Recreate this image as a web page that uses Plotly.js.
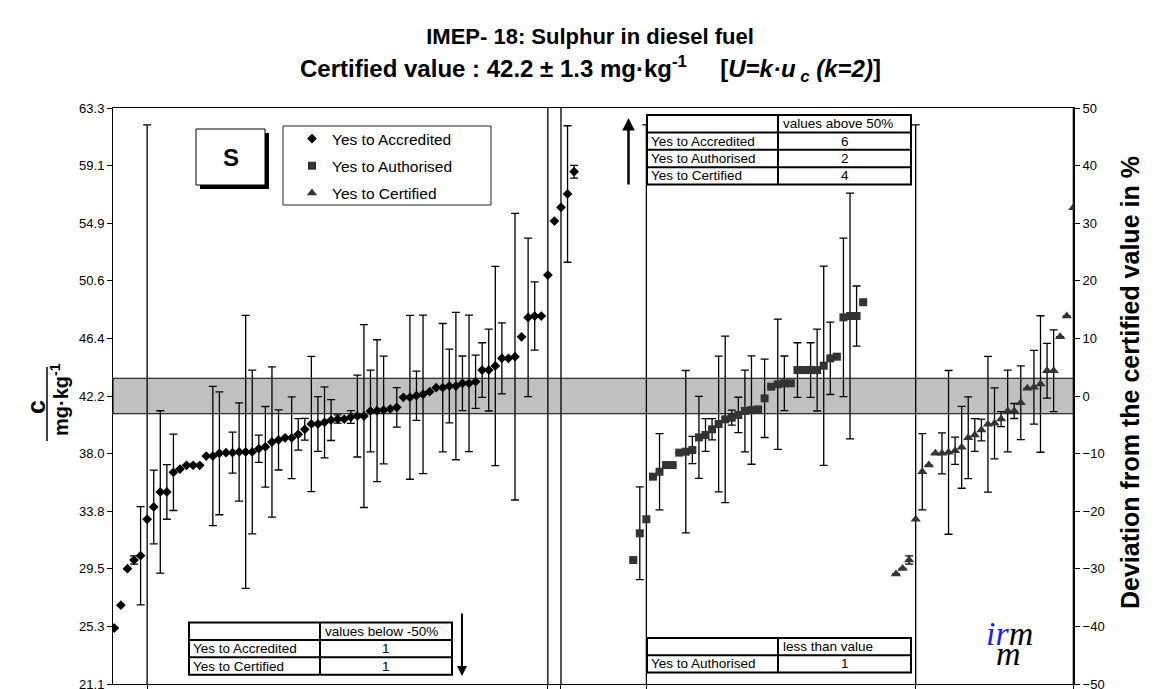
<!DOCTYPE html>
<html>
<head>
<meta charset="utf-8">
<script src="https://cdn.plot.ly/plotly-3.0.1.min.js"></script>
<style>
  html, body { margin: 0; padding: 0; background: #fff; }
  #chart { width: 1155px; height: 689px; }
</style>
</head>
<body>
<div id="chart"></div>
<script>
// certified value and expanded uncertainty, mg/kg
var certified = 42.2;
var expandedU = 1.3;

// lab results (sorted), first rank of each group on the x axis
var accStart = 1;
var accValues = [25.2, 26.87, 29.55, 30.18, 30.5, 33.17, 34.07, 35.17, 35.17, 36.61,
  36.85, 37.12, 37.12, 37.12, 37.8, 37.8, 38.0, 38.05, 38.05, 38.1,
  38.1, 38.1, 38.34, 38.48, 38.83, 38.98, 39.14, 39.14, 39.39, 39.76,
  40.15, 40.15, 40.27, 40.44, 40.51, 40.51, 40.66, 40.73, 40.73, 41.1,
  41.12, 41.17, 41.25, 41.37, 42.1, 42.1, 42.22, 42.32, 42.52, 42.81,
  42.81, 42.93, 42.93, 43.13, 43.13, 43.25, 44.1, 44.1, 44.4, 44.96,
  44.96, 45.08, 46.54, 47.96, 48.06, 48.06, 51.06, 55.02, 56.02, 57.0,
  58.63];
var accUnc = [0, 0, 0, 0.3, 3.6, 28.9, 2.7, 5.95, 2.0, 2.8,
  0, 0, 0, 0, 0, 5.1, 4.5, 0, 1.5, 3.6,
  10.0, 6.0, 1.0, 2.95, 5.5, 2.2, 0, 3.0, 1.15, 0.8,
  4.95, 2.0, 2.6, 1.5, 0.3, 0, 0.47, 3.0, 6.7, 3.0,
  5.2, 3.95, 0, 1.45, 0, 6.0, 1.8, 5.8, 0, 0,
  4.7, 2.7, 5.4, 2.0, 5.0, 1.95, 2.0, 3.0, 7.3, 2.6,
  0, 10.5, 0, 5.8, 2.5, 0, 40, 0, 40, 5.0,
  0.47];

var autStart = 80;
var autValues = [30.18, 32.14, 33.17, 36.29, 36.65, 37.14, 37.14, 38.05, 38.12, 38.24,
  39.17, 39.34, 39.76, 40.15, 40.49, 40.61, 40.81, 41.1, 41.17, 41.22,
  42.03, 42.88, 43.06, 43.13, 43.13, 44.1, 44.1, 44.1, 44.1, 44.42,
  44.96, 45.08, 47.96, 48.06, 48.06, 49.07];
var autUnc = [0, 3.4, 28.9, 0, 2.8, 0, 0, 0, 5.95, 1.0,
  3.0, 1.2, 0.78, 4.97, 6.1, 0.55, 1.3, 3.0, 3.97, 0,
  2.87, 0, 4.77, 2.0, 0, 2.0, 0, 2.0, 3.0, 7.3,
  2.65, 0, 5.8, 9.0, 2.2, 0];

var cerStart = 120;
var cerValues = [29.16, 29.57, 30.18, 33.17, 36.65, 37.14, 38.0, 38.0, 38.07, 38.19,
  38.44, 39.14, 39.34, 39.71, 40.13, 40.2, 40.51, 41.1, 41.1, 41.71,
  42.76, 42.84, 43.08, 44.05, 44.05, 46.54, 48.06, 56.0];
var cerUnc = [0, 0, 0.3, 28.9, 2.8, 0, 0, 1.5, 6.0, 1.0,
  3.0, 3.0, 1.2, 0.8, 4.97, 2.6, 0.55, 3.0, 0.55, 2.7,
  0, 2.7, 5.0, 2.0, 3.0, 0, 0, 40];

// ranks of the labs whose bars run off the chart (small ticks below the axis)
var offChartRanks = [6, 67, 69, 82, 123, 147];

// the three little tables
var aboveHeader = 'values above 50%';
var aboveLabels = ['Yes to Accredited', 'Yes to Authorised', 'Yes to Certified'];
var aboveCounts = [6, 2, 4];
var belowHeader = 'values below -50%';
var belowLabels = ['Yes to Accredited', 'Yes to Certified'];
var belowCounts = [1, 1];
var lessHeader = 'less than value';
var lessLabels = ['Yes to Authorised'];
var lessCounts = [1];

var FONT = 'Liberation Sans, Arial, sans-serif';

// pixel -> paper helpers (plot area 113..1074 x 108..684)
px = (x) => (x - 113) / 961;
py = (y) => (684 - y) / 576;

var ranks = (start, arr) => arr.map((_, i) => start + i);

function group(name, start, values, unc, symbol, size, color) {
  return {
    x: ranks(start, values),
    y: values,
    type: 'scatter',
    mode: 'markers',
    name: name,
    legendgroup: name,
    marker: {symbol: symbol, size: size, color: color},
    error_y: {type: 'data', array: unc, visible: true, color: '#000', thickness: 1.3, width: 4},
    hoverinfo: 'x+y'
  };
}

var data = [
  group('Yes to Accredited', accStart, accValues, accUnc, 'diamond', 7.5, '#000'),
  group('Yes to Authorised', autStart, autValues, autUnc, 'square', 8, '#333'),
  group('Yes to Certified', cerStart, cerValues, cerUnc, 'triangle-up', 9, '#333'),
  // empty trace so the deviation axis on the right gets drawn
  {x: [], y: [], type: 'scatter', yaxis: 'y2', showlegend: false, hoverinfo: 'skip'}
];

var tickVals = [], tickText = [];
for (var k = -5; k <= 5; k++) {
  var v = certified * (1 + k / 10);
  tickVals.push(v);
  tickText.push(v.toFixed(1));
}

var shapes = [];
var annotations = [];

function note(x, y, text, size, extra) {
  var a = {xref: 'paper', yref: 'paper', x: px(x), y: py(y), xanchor: 'center', yanchor: 'middle',
    text: text, showarrow: false, font: {family: FONT, size: size, color: '#000'}};
  return Object.assign(a, extra || {});
}

// certified value +- U band
shapes.push({type: 'rect', xref: 'paper', yref: 'y', x0: 0, x1: 1,
  y0: certified - expandedU, y1: certified + expandedU,
  fillcolor: '#c0c0c0', line: {color: '#000', width: 1}, layer: 'below'});

// table builder
function table(left, mid, right, top, rowH, header, labels, counts) {
  var n = labels.length + 1;
  var bottom = top + rowH * n;
  shapes.push({type: 'rect', xref: 'paper', yref: 'paper', x0: px(left), x1: px(right),
    y0: py(bottom), y1: py(top), fillcolor: 'white', line: {color: '#000', width: 2}});
  shapes.push({type: 'line', xref: 'paper', yref: 'paper', x0: px(mid), x1: px(mid),
    y0: py(bottom), y1: py(top), line: {color: '#000', width: 2}});
  for (var r = 1; r < n; r++) {
    shapes.push({type: 'line', xref: 'paper', yref: 'paper', x0: px(left), x1: px(right),
      y0: py(top + rowH * r), y1: py(top + rowH * r), line: {color: '#000', width: 2}});
  }
  annotations.push(note(mid + 3, top + rowH / 2, header, 13.5, {xanchor: 'left'}));
  labels.forEach((lab, i) => {
    var yc = top + rowH * (i + 1.5);
    annotations.push(note(left + 2, yc, lab, 13.5, {xanchor: 'left'}));
    annotations.push(note((mid + right) / 2, yc, String(counts[i]), 13.5));
  });
}
table(647, 778, 911, 115, 17.4, aboveHeader, aboveLabels, aboveCounts);
table(189, 320, 452, 622.5, 17.4, belowHeader, belowLabels, belowCounts);
table(647, 778, 911, 638, 17.3, lessHeader, lessLabels, lessCounts);

// legend frame (the legend itself is drawn borderless on top)
shapes.push({type: 'rect', xref: 'paper', yref: 'paper', x0: px(283), x1: px(491),
  y0: py(205), y1: py(126), fillcolor: 'white', line: {color: '#222', width: 1}});

// "S" box with shadow
shapes.push({type: 'rect', xref: 'paper', yref: 'paper', x0: px(200), x1: px(269),
  y0: py(189), y1: py(133), fillcolor: '#000', line: {width: 0}});
shapes.push({type: 'rect', xref: 'paper', yref: 'paper', x0: px(196), x1: px(265),
  y0: py(185), y1: py(129), fillcolor: 'white', line: {color: '#000', width: 1}});
annotations.push(note(230.5, 157, '<b>S</b>', 24));

// arrows
annotations.push({xref: 'paper', yref: 'paper', x: px(628.5), y: py(118), text: '',
  showarrow: true, arrowhead: 2, arrowsize: 1, arrowwidth: 2.5, arrowcolor: '#000', ax: 0, ay: 68});
annotations.push({xref: 'paper', yref: 'paper', x: px(462), y: py(676), text: '',
  showarrow: true, arrowhead: 2, arrowsize: 1, arrowwidth: 2, arrowcolor: '#000', ax: 0, ay: -64});

// subtitle
annotations.push(note(590, 69,
  '<b>Certified value : 42.2 \u00b1 1.3 mg\u00b7kg<sup>-1</sup>\u00a0\u00a0\u00a0\u00a0\u00a0[<i>U=k\u00b7u<sub>\u00a0c</sub>\u00a0(k=2)</i>]</b>', 24));

// left axis title: c over mg.kg-1
annotations.push(note(36, 407, '<b>c</b>', 25, {textangle: -90}));
shapes.push({type: 'line', xref: 'paper', yref: 'paper', x0: px(47), x1: px(47),
  y0: py(441), y1: py(367), line: {color: '#000', width: 1.5}});
annotations.push(note(59, 400, '<b>mg\u00b7kg<sup>-1</sup></b>', 20, {textangle: -90}));

// right axis title
annotations.push(note(1130, 383, '<b>Deviation from the certified value in %</b>', 25, {textangle: -90}));

// irmm logo
annotations.push(note(1009, 633, '<i><span style="color:#1a1aff">ir</span>m</i>', 34,
  {font: {family: 'Liberation Serif, serif', size: 34, color: '#000'}}));
annotations.push(note(1008, 653, '<i>m</i>', 34,
  {font: {family: 'Liberation Serif, serif', size: 34, color: '#000'}}));

var layout = {
  width: 1155,
  height: 689,
  margin: {l: 113, r: 81, t: 108, b: 5},
  paper_bgcolor: 'white',
  plot_bgcolor: 'white',
  font: {family: FONT, color: '#000'},
  title: {text: '<b>IMEP- 18: Sulphur in diesel fuel</b>', x: 590 / 1155,
    xanchor: 'center', y: 1 - 36 / 689, yanchor: 'middle', yref: 'container',
    font: {family: FONT, size: 22, color: '#000'}},
  showlegend: true,
  legend: {x: px(292), y: py(122), xanchor: 'left', yanchor: 'top', bgcolor: 'rgba(0,0,0,0)',
    borderwidth: 0, font: {family: FONT, size: 15.5, color: '#000'},
    itemwidth: 30, tracegroupgap: 4},
  xaxis: {range: [0.8, 147.1], showgrid: false, zeroline: false, showline: true, mirror: true,
    linecolor: '#000', linewidth: 1, tickmode: 'array', tickvals: offChartRanks,
    ticks: 'outside', ticklen: 5, tickcolor: '#000', showticklabels: false, fixedrange: true},
  yaxis: {range: [certified * 0.5, certified * 1.5], tickmode: 'array', tickvals: tickVals, ticktext: tickText,
    ticks: 'outside', ticklen: 5, tickcolor: '#000', showgrid: false, zeroline: false,
    showline: true, linecolor: '#000', linewidth: 1, ticklabeloverflow: 'allow',
    tickfont: {family: FONT, size: 13, color: '#000'}},
  yaxis2: {range: [-50, 50], overlaying: 'y', side: 'right', tick0: 0, dtick: 10,
    ticks: 'outside', ticklen: 5, tickcolor: '#000', showgrid: false, zeroline: false,
    showline: true, linecolor: '#000', linewidth: 1, ticklabeloverflow: 'allow',
    tickfont: {family: FONT, size: 13, color: '#000'}},
  shapes: shapes,
  annotations: annotations
};

Plotly.newPlot('chart', data, layout, {displayModeBar: false, staticPlot: true});
</script>
</body>
</html>
